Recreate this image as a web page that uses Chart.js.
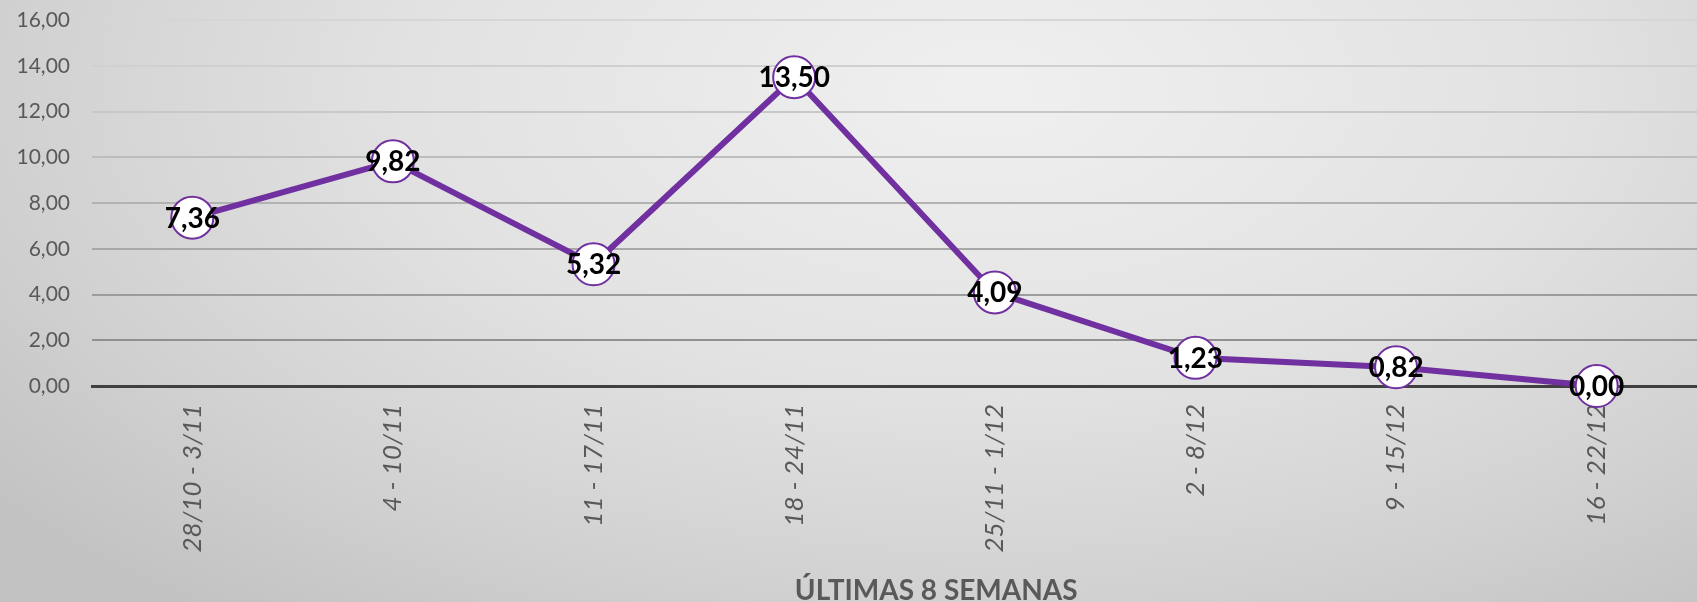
<!DOCTYPE html>
<html>
<head>
<meta charset="utf-8">
<script src="https://cdn.jsdelivr.net/npm/chart.js@4"></script>
<style>
  html, body { margin: 0; padding: 0; }
  body {
    width: 1697px; height: 602px; overflow: hidden;
    background: radial-gradient(ellipse 75% 110% at 58% 15%, #f0f0f0 0%, #e2e2e2 45%, #d2d2d2 75%, #c2c2c2 100%);
  }
  #wrap { position: relative; width: 1697px; height: 602px; }
</style>
</head>
<body>
<div id="wrap"><canvas id="weeksChart"></canvas></div>
<script>
const weekLabels = ['28/10 - 3/11', '4 - 10/11', '11 - 17/11', '18 - 24/11', '25/11 - 1/12', '2 - 8/12', '9 - 15/12', '16 - 22/12'];
const weekValues = [7.36, 9.82, 5.32, 13.50, 4.09, 1.23, 0.82, 0.00];
const axisTitle = 'ÚLTIMAS 8 SEMANAS';

const fmt = v => v.toFixed(2).replace('.', ',');

// shade of the gridlines gets darker towards the bottom, like the original
const gridShade = {16: '#d6d6d6', 14: '#d0d0d0', 12: '#c8c8c8', 10: '#bdbdbd', 8: '#b2b2b2', 6: '#a8a8a8', 4: '#9c9c9c', 2: '#909090', 0: '#404040'};

const pointLabels = {
    id: 'pointLabels',
    afterDatasetsDraw(chart) {
        const ctx = chart.ctx;
        const meta = chart.getDatasetMeta(0);
        ctx.save();
        ctx.font = 'bold 28px Lato';
        ctx.fillStyle = '#000000';
        ctx.textAlign = 'center';
        ctx.textBaseline = 'middle';
        meta.data.forEach((pt, i) => {
            ctx.fillText(fmt(weekValues[i]), pt.x, pt.y + 1);
        });
        ctx.restore();
    }
};

const bottomTitle = {
    id: 'bottomTitle',
    afterDraw(chart) {
        const ctx = chart.ctx;
        const area = chart.chartArea;
        ctx.save();
        ctx.font = 'bold 28px Lato';
        ctx.fillStyle = '#595959';
        ctx.textAlign = 'center';
        ctx.textBaseline = 'alphabetic';
        ctx.fillText(axisTitle, area.left + area.width * 0.526, 600);
        ctx.restore();
    }
};

const chart = new Chart(document.getElementById('weeksChart').getContext('2d'), {
    type: 'line',
    data: {
        labels: weekLabels,
        datasets: [{
            data: weekValues,
            borderColor: '#7030a0',
            borderWidth: 6,
            pointRadius: 21,
            pointHoverRadius: 21,
            pointBackgroundColor: '#ffffff',
            pointBorderColor: '#7030a0',
            pointBorderWidth: 2,
            tension: 0,
            clip: false
        }]
    },
    options: {
        responsive: true,
        maintainAspectRatio: false,
        animation: false,
        layout: { autoPadding: false, padding: { top: 20, right: 0, left: 0, bottom: 0 } },
        plugins: {
            legend: { display: false },
            tooltip: { enabled: false }
        },
        scales: {
            x: {
                offset: true,
                grid: { display: false, drawTicks: false },
                border: { display: true, color: '#404040', width: 3 },
                ticks: {
                    minRotation: 90,
                    maxRotation: 90,
                    padding: 18,
                    color: '#595959',
                    font: { family: 'Lato', size: 26, style: 'italic' }
                },
                afterFit(scale) { scale.height = 216; }
            },
            y: {
                min: 0,
                max: 16,
                grid: {
                    drawTicks: true,
                    tickLength: 22,
                    tickColor: 'transparent',
                    lineWidth: 2,
                    color: c => gridShade[c.tick.value] || '#b0b0b0'
                },
                border: { display: false },
                ticks: {
                    stepSize: 2,
                    padding: 0,
                    color: '#595959',
                    font: { family: 'Lato', size: 21 },
                    callback: v => fmt(v)
                },
                afterFit(scale) { scale.width = 92; }
            }
        }
    },
    plugins: [pointLabels, bottomTitle]
});
</script>
</body>
</html>
